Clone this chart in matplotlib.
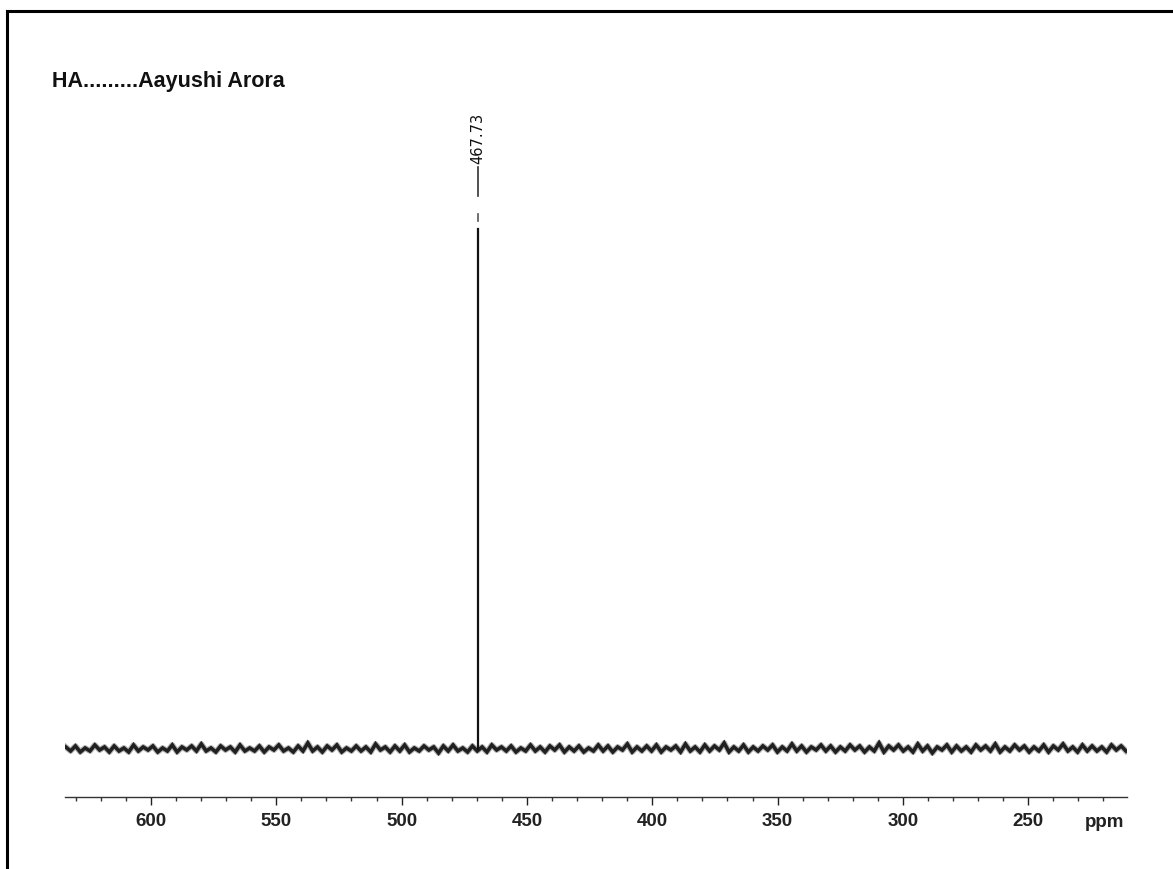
import numpy as np
import matplotlib.pyplot as plt
from matplotlib.lines import Line2D
from matplotlib.ticker import MultipleLocator

# spectrum values (intensity in arbitrary units, baseline = 0)
peak_ppm = 469.6
peak_height = 520
peak_label = '467.73'

baseline_noise = [
    2, -2, 3, -3, 1, -2, 4, -1, 2, -3, 3, -2, 1, -3, 4, -2, 2, -1, 3, -3,
    1, -2, 4, -3, 2, -1, 3, -2, 5, -2, 1, -3, 3, -1, 2, -3, 4, -2, 1, -2,
    3, -3, 2, -1, 4, -2, 1, -3, 3, -2, 6, -2, 2, -3, 3, -1, 4, -3, 1, -2,
    3, -2, 2, -3, 5, -1, 2, -3, 3, -2, 4, -3, 1, -2, 3, -1, 2, -4, 3, -2,
    4, -2, 1, -3, 3, -2, 2, -3, 4, -1, 2, -2, 3, -3, 1, -2, 4, -2, 2, -3,
    3, -1, 4, -3, 2, -2, 3, -3, 1, -2, 4, -2, 3, -3, 2, -1, 5, -3, 2, -2,
    3, -2, 4, -3, 2, -1, 3, -3, 5, -2, 2, -3, 4, -2, 3, -1, 6, -3, 2, -2,
    4, -3, 2, -2, 3, -1, 4, -3, 2, -2, 5, -2, 3, -3, 2, -1, 4, -2, 3, -3,
    2, -2, 4, -1, 3, -3, 2, -2, 6, -3, 3, -1, 4, -2, 2, -3, 5, -2, 3, -4,
    2, -1, 4, -3, 3, -2, 2, -3, 4, -1, 3, -2, 5, -3, 2, -2, 4, -1, 3, -3,
    2, -2, 4, -3, 3, -1, 5, -2, 2, -3, 4, -2, 3, -2, 2, -3, 4, -1, 3, -2,
]
baseline_ppm = np.linspace(634.0, 211.0, len(baseline_noise))

tick_values = [600, 550, 500, 450, 400, 350, 300, 250]

fig = plt.figure(figsize=(11.73, 8.70), dpi=100)
fig.patch.set_facecolor('white')

W, H = 1173, 870
ax = fig.add_axes([65 / W, (H - 798) / H, 1062 / W, 698 / H])

ax.plot(baseline_ppm, baseline_noise, color='#1c1c1c', lw=2.6, solid_joinstyle='miter')
ax.plot(baseline_ppm, baseline_noise, color='#2a2a2a', lw=4.2, alpha=0.35)
ax.plot([peak_ppm, peak_ppm], [0, peak_height], color='#111111', lw=1.6)
# small dash and leader line above the peak, then the peak label
ax.plot([peak_ppm, peak_ppm], [peak_height + 8, peak_height + 15], color='#555555', lw=1.2)
ax.plot([peak_ppm, peak_ppm], [peak_height + 33, peak_height + 62], color='#333333', lw=1.2)
ax.text(peak_ppm, peak_height + 66, peak_label, rotation=90, ha='center', va='bottom',
        fontsize=10.5, family=['Liberation Sans Narrow', 'DejaVu Sans'], color='#111111')

ax.set_xlim(634.3, 210.6)
ax.set_ylim(-48, 650)

for s in ['left', 'right', 'top']:
    ax.spines[s].set_visible(False)
ax.spines['bottom'].set_color('#333333')
ax.spines['bottom'].set_linewidth(1.0)
ax.set_yticks([])
ax.set_xticks(tick_values)
ax.xaxis.set_minor_locator(MultipleLocator(10))
ax.tick_params(axis='x', which='major', direction='out', length=6, width=1, pad=5,
               labelsize=13.5, colors='#222222')
ax.tick_params(axis='x', which='minor', direction='out', length=3, width=1, colors='#333333')
for lbl in ax.get_xticklabels():
    lbl.set_fontfamily('Liberation Sans')
    lbl.set_fontweight('bold')
    lbl.set_color('#222222')

fig.text(1105 / W, 1 - 823 / H, 'ppm', ha='center', va='center', fontsize=13.5,
         family='Liberation Sans', fontweight='bold', color='#222222')
fig.text(52 / W, 1 - 82 / H, 'HA.........Aayushi Arora', ha='left', va='center',
         fontsize=15.5, family='Liberation Sans', fontweight='bold', color='#111111')

# scan frame: left and top border
fig.add_artist(Line2D([7 / W, 7 / W], [0, 1 - 12 / H], transform=fig.transFigure,
                      color='black', lw=2.2))
fig.add_artist(Line2D([7 / W, 1], [1 - 12 / H, 1 - 12 / H], transform=fig.transFigure,
                      color='black', lw=2.2))

fig.savefig('out.png', dpi=100, facecolor='white')
